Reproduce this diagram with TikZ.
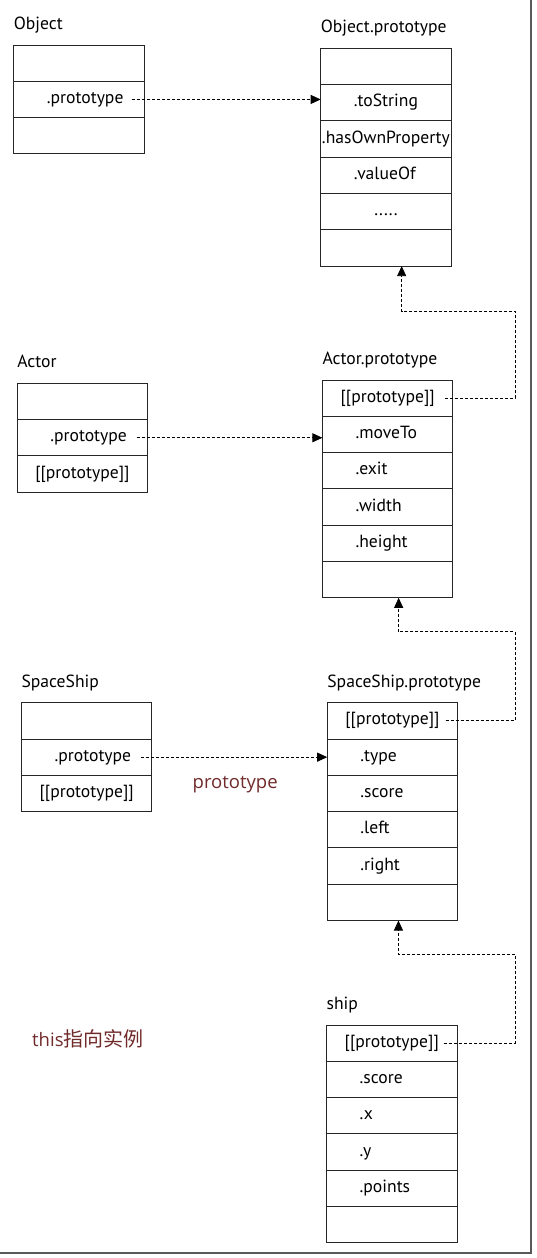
\documentclass[tikz,border=0pt]{standalone}
\usepackage{fontspec}
\setmainfont{PT Sans}
\newfontfamily\notefont{Open Sans}
\newfontfamily\cjkfont{Noto Sans CJK SC}
\usepackage{tikz}
\usetikzlibrary{positioning, arrows.meta}
\definecolor{notered}{RGB}{112,42,42}

\begin{document}
\begin{tikzpicture}[x=1pt, y=-1pt,
                field/.style={draw=black!85, line width=0.9pt, rectangle, minimum width=130.5pt, minimum height=36.3pt, inner sep=0pt, outer sep=0pt, text height=12pt, text depth=4pt, font=\fontsize{17.6}{20}\selectfont},
                entry/.style={draw=none, anchor=base west, xshift=33pt, yshift=-4pt, inner sep=0pt, minimum size=0pt, font=\fontsize{17.6}{20}\selectfont},
                boxtitle/.style={draw=none, anchor=base west, yshift=15.5pt, inner sep=0pt, minimum size=0pt, font=\fontsize{17.6}{20}\selectfont},
                protolink/.style={line width=0.8pt, dash pattern=on 3pt off 2pt, -{Triangle[length=10pt,width=9pt]}},
                note/.style={text=notered, inner sep=0pt, anchor=base west, font=\notefont\fontsize{18.5}{22}\selectfont}
            ]
            \useasboundingbox (0,0) rectangle (536,1258);

            % Object
            \node[field, anchor=north west, label={[boxtitle]north west:Object}] (o1) at (13.7,45) {};
            \node[field, below=0pt of o1, label={[entry]west:.prototype}] (o2) {};
            \node[field, below=0pt of o2] (o3) {};

            % Object.prototype
            \node[field, anchor=north west, label={[boxtitle]north west:Object.prototype}] (op1) at (320.7,48.3) {};
            \node[field, below=0pt of op1, label={[entry]west:.toString}] (op2) {};
            \node[field, below=0pt of op2] (op3) {.hasOwnProperty};
            \node[field, below=0pt of op3, label={[entry]west:.valueOf}] (op4) {};
            \node[field, below=0pt of op4] (op5) {.....};
            \node[field, below=0pt of op5] (op6) {};

            % Actor
            \node[field, anchor=north west, label={[boxtitle]north west:Actor}] (a1) at (17.1,383.3) {};
            \node[field, below=0pt of a1, label={[entry]west:.prototype}] (a2) {};
            \node[field, below=0pt of a2] (a3) {[[prototype]]};

            % Actor.prototype
            \node[field, anchor=north west, label={[boxtitle]north west:Actor.prototype}] (ap1) at (322.4,380) {[[prototype]]};
            \node[field, below=0pt of ap1, label={[entry]west:.moveTo}] (ap2) {};
            \node[field, below=0pt of ap2, label={[entry]west:.exit}] (ap3) {};
            \node[field, below=0pt of ap3, label={[entry]west:.width}] (ap4) {};
            \node[field, below=0pt of ap4, label={[entry]west:.height}] (ap5) {};
            \node[field, below=0pt of ap5] (ap6) {};

            % SpaceShip
            \node[field, anchor=north west, label={[boxtitle]north west:SpaceShip}] (s1) at (21.4,702.7) {};
            \node[field, below=0pt of s1, label={[entry]west:.prototype}] (s2) {};
            \node[field, below=0pt of s2] (s3) {[[prototype]]};

            % SpaceShip.prototype
            \node[field, anchor=north west, label={[boxtitle]north west:SpaceShip.prototype}] (sp1) at (327.2,702.7) {[[prototype]]};
            \node[field, below=0pt of sp1, label={[entry]west:.type}] (sp2) {};
            \node[field, below=0pt of sp2, label={[entry]west:.score}] (sp3) {};
            \node[field, below=0pt of sp3, label={[entry]west:.left}] (sp4) {};
            \node[field, below=0pt of sp4, label={[entry]west:.right}] (sp5) {};
            \node[field, below=0pt of sp5] (sp6) {};

            % ship
            \node[field, anchor=north west, label={[boxtitle]north west:ship}] (i1) at (326.5,1025) {[[prototype]]};
            \node[field, below=0pt of i1, label={[entry]west:.score}] (i2) {};
            \node[field, below=0pt of i2, label={[entry]west:.x}] (i3) {};
            \node[field, below=0pt of i3, label={[entry]west:.y}] (i4) {};
            \node[field, below=0pt of i4, label={[entry]west:.points}] (i5) {};
            \node[field, below=0pt of i5] (i6) {};

            % Hinweise
            \node[note] (hint1) at (192.5,788) {prototype};
            \node[note] (hint2) at (32,1046) {this{\cjkfont\fontsize{20}{22}\selectfont 指向实例}};

            % .prototype-Kanten
            \draw[protolink] ([xshift=-12pt]o2.east) -- (op2.west |- o2.east);
            \draw[protolink] ([xshift=-11pt]a2.east) -- (ap2.west |- a2.east);
            \draw[protolink] ([xshift=-11pt]s2.east) -- (sp2.west |- s2.east);

            % [[prototype]]-Kette
            \coordinate (edge) at (515,0);
            \draw[protolink] ([xshift=-8pt]ap1.east) -- (ap1.east -| edge) |- ([xshift=15.7pt,yshift=-45pt]op6.south) -- ([xshift=15.7pt]op6.south);
            \draw[protolink] ([xshift=-12pt]sp1.east) -- (sp1.east -| edge) |- ([xshift=11pt,yshift=-34pt]ap6.south) -- ([xshift=11pt]ap6.south);
            \draw[protolink] ([xshift=-13pt]i1.east) -- (i1.east -| edge) |- ([xshift=6pt,yshift=-34pt]sp6.south) -- ([xshift=6pt]sp6.south);

            % Rahmen
            \draw[black!65, line width=2pt] (531,0) -- (531,1253) -- (0,1253);

        \end{tikzpicture}
\end{document}
